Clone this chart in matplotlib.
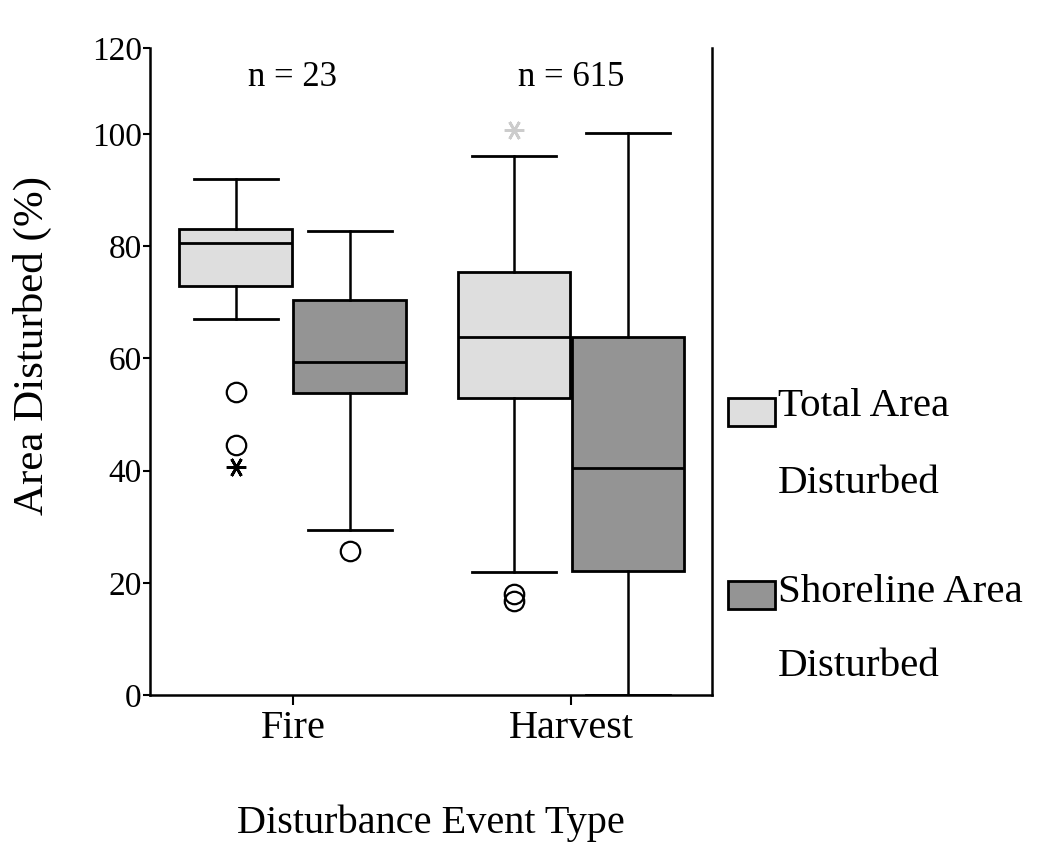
import numpy as np
import matplotlib.pyplot as plt
from matplotlib.patches import Rectangle

plt.rcParams['font.family'] = ['Liberation Serif', 'DejaVu Serif']

# Data
groups = ['Fire', 'Harvest']
group_n = ['n = 23', 'n = 615']
series_names = ['Total Area Disturbed', 'Shoreline Area Disturbed']

# five-number summaries per series, one value per group
total_whislo = [67.0, 21.9]
total_q1 = [72.9, 52.9]
total_med = [80.6, 63.8]
total_q3 = [83.1, 75.4]
total_whishi = [92.0, 96.1]
total_outliers = [[54.0, 44.6], [18.0, 16.8]]
total_extremes = [[40.6], [100.7]]

shore_whislo = [29.4, 0.0]
shore_q1 = [53.8, 22.1]
shore_med = [59.4, 40.5]
shore_q3 = [70.4, 63.8]
shore_whishi = [82.7, 100.2]
shore_outliers = [[25.7], []]

yticks = [0, 20, 40, 60, 80, 100, 115.3]
yticklabels = ['0', '20', '40', '60', '80', '100', '120']

colors = ['#dedede', '#949494']
offset = 0.205
box_w = 0.406
cap_w = 0.30


def make_stats(whislo, q1, med, q3, whishi, fliers):
    return [dict(whislo=whislo[i], q1=q1[i], med=med[i], q3=q3[i],
                 whishi=whishi[i], fliers=fliers[i]) for i in range(len(groups))]


fig = plt.figure(figsize=(10.41, 8.56), dpi=100)
ax = fig.add_axes([150/1041, 1 - 695/856, 562/1041, 647/856])

x = np.arange(len(groups))
all_stats = [
    make_stats(total_whislo, total_q1, total_med, total_q3, total_whishi, total_outliers),
    make_stats(shore_whislo, shore_q1, shore_med, shore_q3, shore_whishi, shore_outliers),
]

for k, stats in enumerate(all_stats):
    pos = x + (-offset if k == 0 else offset)
    ax.bxp(stats, positions=pos, widths=box_w, capwidths=cap_w,
           patch_artist=True, manage_ticks=False,
           boxprops=dict(facecolor=colors[k], edgecolor='black', linewidth=2.0),
           medianprops=dict(color='black', linewidth=2.0),
           whiskerprops=dict(color='black', linewidth=1.8),
           capprops=dict(color='black', linewidth=2.0),
           flierprops=dict(marker='o', markerfacecolor='none',
                           markeredgecolor='black', markersize=14,
                           markeredgewidth=1.6))

# extreme values drawn as asterisks (the harvest one is barely visible)
for i, vals in enumerate(total_extremes):
    col = 'black' if i == 0 else '#cccccc'
    ax.plot([x[i] - offset] * len(vals), vals, linestyle='none',
            marker=(6, 2, 90), markersize=14, markeredgewidth=2.0, color=col)

for i, label in enumerate(group_n):
    ax.text(x[i], 110, label, ha='center', va='center', fontsize=25)

ax.set_xlim(-0.514, 1.507)
ax.set_ylim(0, 115.3)
ax.set_xticks(x)
ax.set_xticklabels(groups, fontsize=29)
ax.set_yticks(yticks)
ax.set_yticklabels(yticklabels, fontsize=24)
ax.tick_params(axis='y', direction='out', length=5, width=1.5, pad=1)
ax.tick_params(axis='x', direction='out', length=7, width=1.5, pad=4)

ax.spines['top'].set_visible(False)
for side in ['left', 'bottom', 'right']:
    ax.spines[side].set_linewidth(1.8)

ax.set_ylabel('Area Disturbed (%)', fontsize=31)
ax.yaxis.set_label_coords(-0.175, 0.54)
ax.set_xlabel('Disturbance Event Type', fontsize=29)
ax.xaxis.set_label_coords(0.5, -0.17)

# legend drawn by hand: swatch next to the first line of a two-line label
legend_lines = [['Total Area', 'Disturbed'], ['Shoreline Area', 'Disturbed']]
swatch_top = [398, 581]
line_y = [[407, 483], [592, 667]]
for k in range(len(series_names)):
    fig.add_artist(Rectangle((728/1041, 1 - (swatch_top[k] + 28)/856),
                             47/1041, 28/856, transform=fig.transFigure,
                             facecolor=colors[k], edgecolor='black',
                             linewidth=2.0))
    for line, yy in zip(legend_lines[k], line_y[k]):
        fig.text(778/1041, 1 - yy/856, line, ha='left', va='center',
                 fontsize=29.5)

fig.savefig('out.png', dpi=100)
